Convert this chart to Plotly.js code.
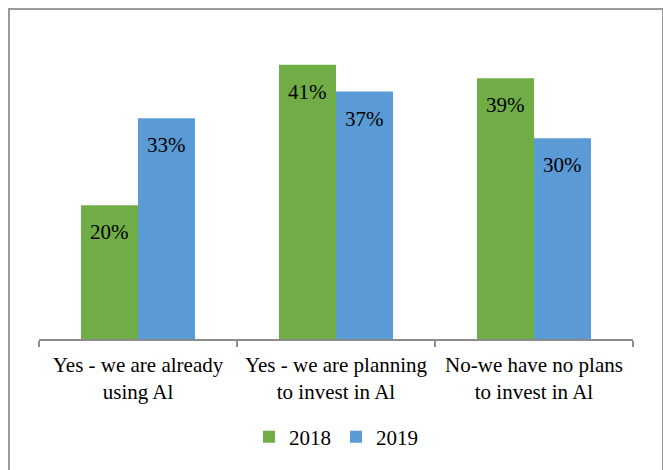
<!DOCTYPE html>
<html>
<head>
<meta charset="utf-8">
<script src="https://cdn.plot.ly/plotly-3.0.1.min.js"></script>
<style>
  html, body { margin: 0; padding: 0; background: #fff; }
  #wrap { position: relative; width: 663px; height: 470px; overflow: hidden; }
  #chart { position: absolute; left: 0; top: 0; width: 663px; height: 470px; }
  #frame { position: absolute; left: 8px; top: 8px; width: 652px; height: 480px;
           border: 2px solid #9a9a9a; pointer-events: none; }
</style>
</head>
<body>
<div id="wrap">
  <div id="chart"></div>
  <div id="frame"></div>
</div>
<script>
const categories = ["Yes - we are already<br>using Al", "Yes - we are planning<br>to invest in Al", "No-we have no plans<br>to invest in Al"];
const series2018 = [20, 41, 39];
const series2019 = [33, 37, 30];
const seriesNames = ["2018", "2019"];
const colors = ["#70AD47", "#5B9BD5"];

const font = "Liberation Serif";
const fs = 21;

const traces = [
  { type: "bar", name: seriesNames[0], x: categories, y: series2018,
    marker: { color: colors[0] }, hoverinfo: "none" },
  { type: "bar", name: seriesNames[1], x: categories, y: series2019,
    marker: { color: colors[1] }, hoverinfo: "none" }
];

const annotations = [];
[series2018, series2019].forEach((vals, si) => {
  vals.forEach((v, i) => {
    annotations.push({
      x: categories[i], y: v, xref: "x", yref: "y",
      text: v + "%", showarrow: false,
      xshift: si === 0 ? -28.5 : 28.5, yshift: -27,
      yanchor: "middle", xanchor: "center",
      font: { family: font, size: fs, color: "#000" }
    });
  });
});

const layout = {
  width: 663, height: 470,
  margin: { l: 39, r: 30, t: 38, b: 131, autoexpand: false },
  paper_bgcolor: "#fff", plot_bgcolor: "#fff",
  barmode: "group", bargap: 0.424, bargroupgap: 0,
  font: { family: font, size: fs, color: "#000" },
  xaxis: {
    type: "category", range: [-0.5, 2.5], automargin: false,
    showline: true, linecolor: "#8c8c8c", linewidth: 1.5,
    ticks: "outside", tickson: "boundaries", ticklen: 6, tickcolor: "#8c8c8c", tickwidth: 1.5,
    ticklabelstandoff: 6,
    showgrid: false, zeroline: false,
    tickfont: { family: font, size: fs, color: "#000" }
  },
  yaxis: {
    range: [0, 45], visible: false, showgrid: false, zeroline: false, automargin: false
  },
  showlegend: true,
  legend: {
    orientation: "h", x: 0.5, xanchor: "center", y: -0.326, yanchor: "middle",
    font: { family: font, size: fs, color: "#000" },
    itemwidth: 30, tracegroupgap: 0
  },
  annotations: annotations
};

Plotly.newPlot("chart", traces, layout, { displayModeBar: false, staticPlot: true });
</script>
</body>
</html>
